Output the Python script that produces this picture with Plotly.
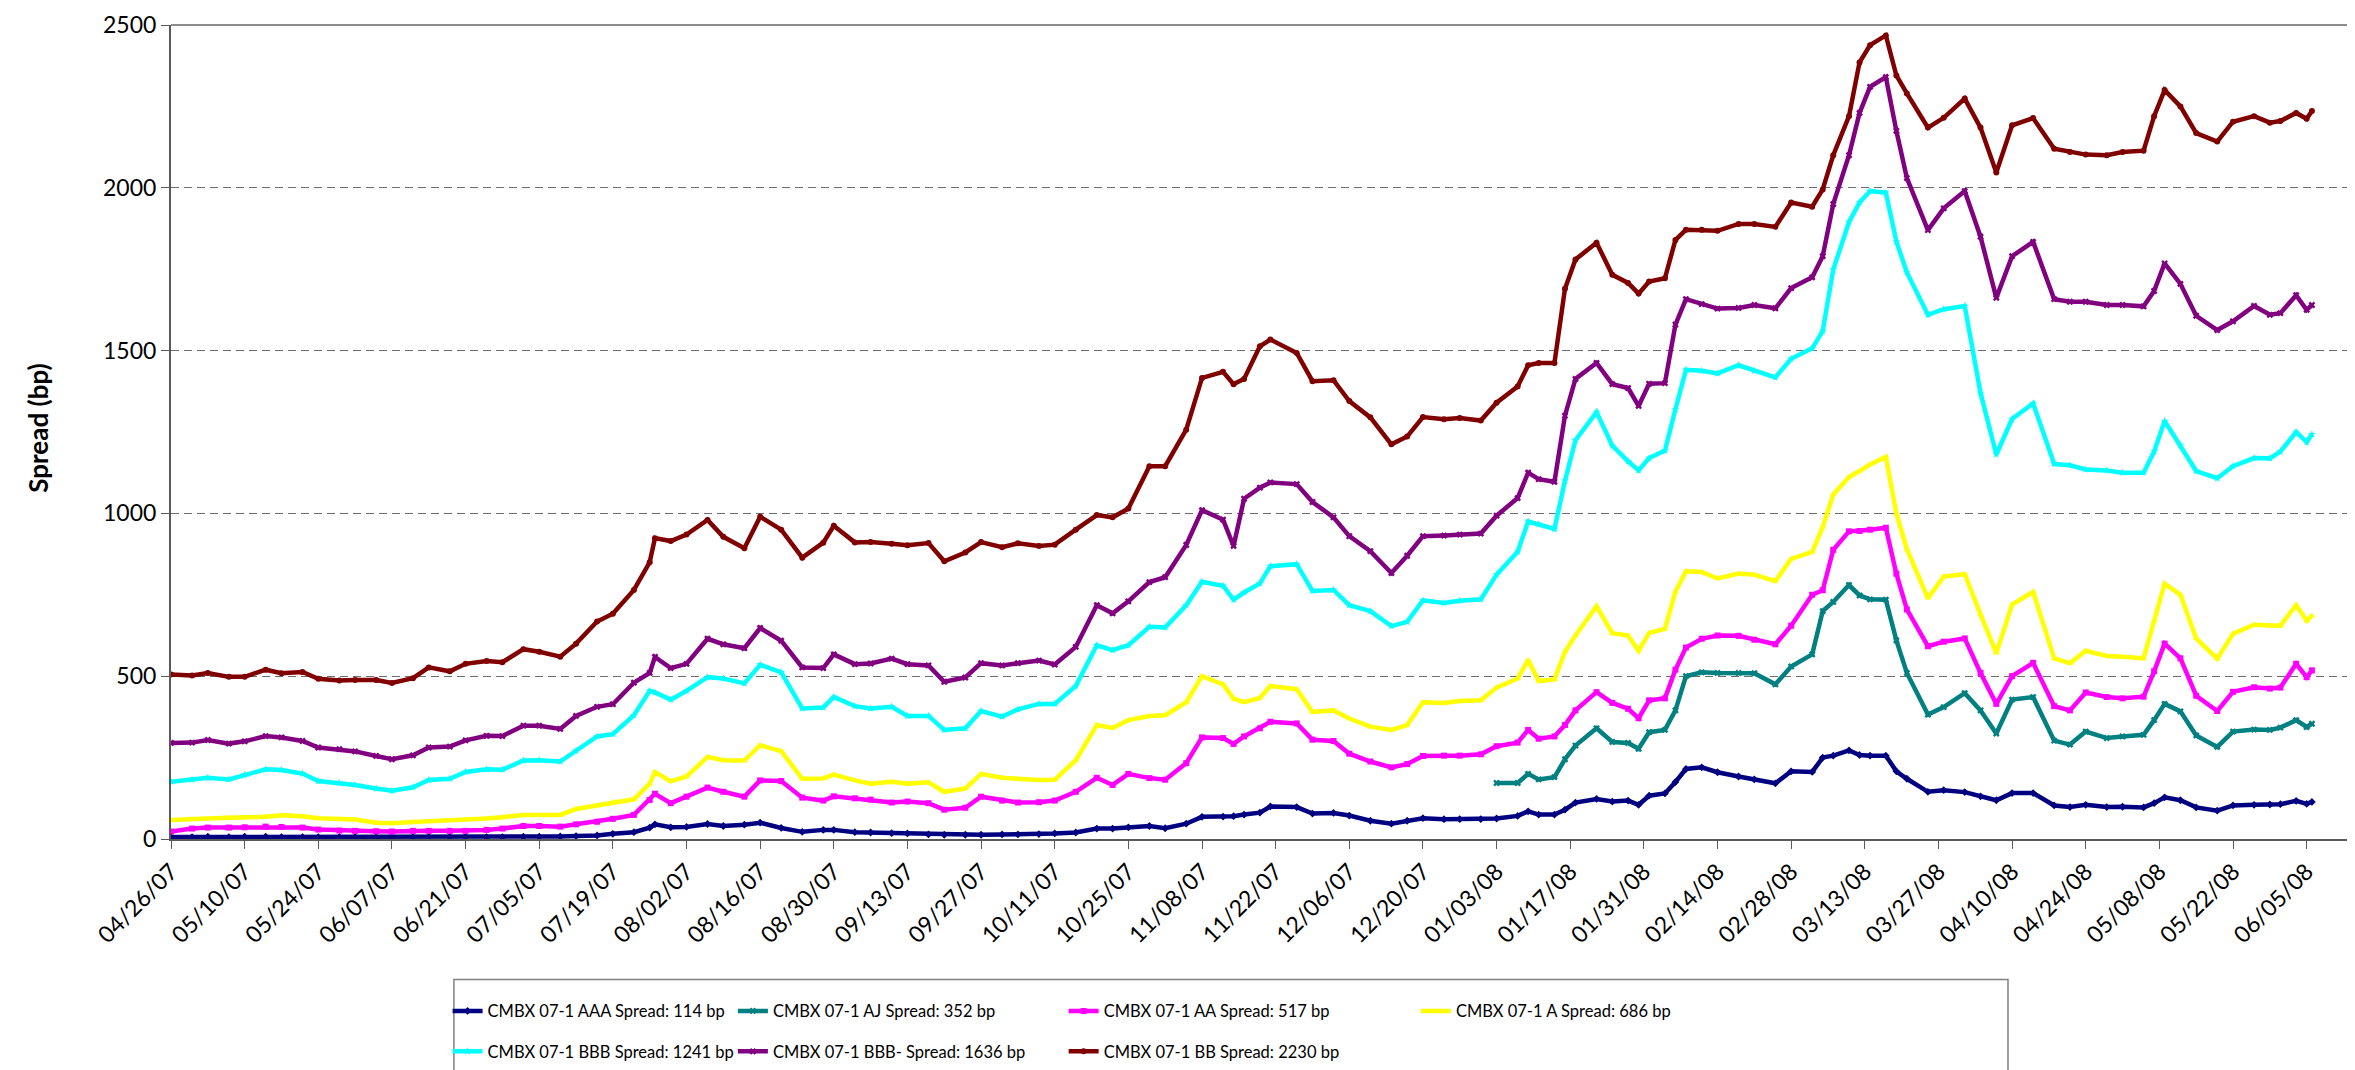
import pandas as pd
import plotly.graph_objects as go

# observation dates, stored as days since the first fixing (04/26/07)
start_date = "2007-04-26"
day_offsets = [0, 4, 7, 11, 14, 18, 21, 25, 28, 32,
               35, 39, 42, 46, 49, 53, 56, 60, 63, 67,
               70, 74, 77, 81, 84, 88, 91, 92, 95, 98,
               102, 105, 109, 112, 116, 120, 124, 126, 130, 133,
               137, 140, 144, 147, 151, 154, 158, 161, 165, 168,
               172, 176, 179, 182, 186, 189, 193, 196, 200, 202,
               204, 207, 209, 214, 217, 221, 224, 228, 232, 235,
               238, 242, 245, 249, 252, 256, 258, 260, 263, 265,
               267, 271, 274, 277, 279, 281, 284, 286, 288, 291,
               294, 298, 301, 305, 308, 312, 314, 316, 319, 321,
               323, 326, 328, 330, 334, 337, 341, 344, 347, 350,
               354, 358, 361, 364, 368, 371, 375, 377, 379, 382,
               385, 389, 392, 396, 399, 401, 404, 406, 407]

aaa = [6, 6, 7, 6, 7, 7, 6, 6, 6, 6,
       6, 5, 5, 5, 6, 6, 6, 6, 6, 7,
       7, 8, 9, 11, 16, 21, 35, 45, 36, 37,
       46, 40, 44, 50, 34, 22, 28, 28, 21, 20,
       18, 17, 14, 13, 13, 13, 14, 14, 15, 17,
       20, 32, 32, 36, 40, 33, 47, 68, 69, 70,
       75, 81, 100, 98, 78, 80, 72, 56, 47, 56,
       64, 61, 61, 61, 63, 71, 85, 75, 75, 90,
       112, 123, 115, 118, 105, 133, 140, 175, 215, 220,
       205, 192, 183, 171, 208, 206, 250, 256, 272, 258,
       256, 256, 208, 185, 145, 150, 144, 131, 119, 141,
       141, 103, 98, 105, 98, 99, 97, 110, 128, 119,
       97, 87, 103, 105, 106, 107, 117, 108, 114]

# AJ tranche only quoted from early January 2008
aj = [None] * 74 + [172, 172, 200, 183, 190, 245,
                    287, 340, 298, 295, 277, 328, 335, 395, 500, 512,
                    510, 510, 509, 475, 530, 567, 700, 728, 780, 748,
                    736, 735, 610, 510, 382, 405, 448, 395, 324, 428,
                    436, 302, 290, 330, 310, 315, 320, 365, 415, 392,
                    318, 283, 330, 336, 335, 342, 365, 344, 354]

aa = [23, 32, 35, 35, 36, 38, 37, 35, 29, 26,
      25, 24, 23, 25, 25, 25, 25, 28, 32, 40,
      40, 38, 45, 53, 62, 74, 120, 139, 110, 130,
      158, 145, 130, 180, 178, 127, 118, 131, 125, 121,
      112, 115, 110, 90, 96, 130, 118, 112, 113, 118,
      145, 188, 166, 200, 187, 182, 233, 312, 310, 292,
      315, 340, 360, 355, 305, 301, 262, 238, 220, 230,
      255, 256, 256, 260, 285, 296, 335, 308, 315, 350,
      395, 451, 418, 400, 371, 426, 432, 520, 588, 615,
      625, 624, 612, 598, 655, 750, 764, 888, 945, 946,
      950, 956, 815, 705, 592, 606, 616, 510, 415, 500,
      541, 408, 395, 450, 436, 432, 437, 515, 600, 555,
      440, 393, 452, 466, 462, 465, 538, 497, 518]

a = [58, 62, 63, 65, 66, 68, 73, 70, 64, 61,
     60, 50, 48, 52, 54, 57, 59, 63, 67, 74,
     74, 74, 92, 103, 114, 122, 170, 206, 177, 192,
     252, 242, 241, 288, 270, 185, 186, 198, 180, 170,
     176, 170, 174, 145, 155, 200, 188, 185, 181, 182,
     242, 350, 341, 365, 378, 380, 420, 500, 475, 431,
     420, 433, 470, 460, 390, 395, 370, 345, 335, 350,
     420, 418, 424, 426, 465, 493, 550, 485, 490, 575,
     625, 715, 632, 625, 578, 633, 645, 760, 822, 820,
     800, 815, 812, 792, 860, 882, 958, 1058, 1112, 1130,
     1150, 1174, 1000, 890, 740, 806, 813, 690, 571, 720,
     759, 555, 540, 578, 562, 560, 555, 670, 784, 750,
     616, 554, 630, 658, 655, 655, 718, 670, 686]

bbb = [176, 182, 188, 183, 197, 214, 212, 201, 178, 172,
       166, 155, 148, 159, 181, 185, 206, 214, 213, 241,
       242, 238, 271, 315, 322, 380, 455, 450, 428, 455,
       497, 493, 478, 535, 512, 401, 404, 436, 408, 401,
       406, 378, 378, 335, 340, 393, 376, 398, 415, 415,
       470, 595, 580, 595, 652, 650, 718, 790, 778, 735,
       757, 785, 838, 844, 762, 765, 718, 700, 654, 667,
       733, 725, 732, 736, 812, 882, 975, 967, 952, 1100,
       1225, 1311, 1208, 1160, 1132, 1170, 1193, 1320, 1441, 1438,
       1430, 1455, 1438, 1418, 1475, 1507, 1560, 1749, 1895, 1955,
       1990, 1985, 1835, 1740, 1610, 1627, 1637, 1370, 1181, 1290,
       1338, 1152, 1148, 1135, 1132, 1125, 1125, 1190, 1284, 1210,
       1130, 1108, 1145, 1170, 1169, 1190, 1250, 1219, 1243]

bbb_minus = [295, 296, 304, 293, 300, 316, 312, 301, 281, 276,
             269, 255, 245, 257, 281, 284, 303, 317, 316, 348,
             348, 338, 378, 406, 414, 480, 510, 559, 525, 538,
             615, 598, 586, 648, 609, 527, 525, 567, 537, 539,
             554, 537, 533, 483, 496, 540, 533, 540, 548, 536,
             590, 718, 693, 730, 789, 804, 903, 1010, 981, 900,
             1045, 1079, 1095, 1090, 1035, 988, 930, 884, 817, 870,
             930, 932, 935, 938, 993, 1047, 1125, 1105, 1097, 1300,
             1413, 1462, 1397, 1385, 1330, 1398, 1400, 1580, 1658, 1643,
             1629, 1631, 1640, 1630, 1692, 1725, 1790, 1950, 2100, 2230,
             2310, 2340, 2175, 2030, 1870, 1937, 1990, 1850, 1662, 1790,
             1834, 1658, 1650, 1650, 1640, 1640, 1636, 1683, 1768, 1705,
             1607, 1563, 1590, 1637, 1610, 1615, 1670, 1625, 1640]

bb = [505, 502, 510, 498, 498, 520, 509, 513, 492, 487,
      488, 488, 479, 494, 527, 515, 538, 547, 543, 583,
      575, 560, 600, 668, 692, 765, 850, 924, 915, 935,
      980, 928, 893, 990, 950, 864, 910, 962, 911, 912,
      907, 902, 909, 853, 880, 912, 896, 908, 900, 904,
      950, 995, 988, 1015, 1145, 1145, 1257, 1416, 1435, 1397,
      1413, 1513, 1534, 1493, 1406, 1409, 1345, 1295, 1212, 1236,
      1296, 1289, 1293, 1285, 1340, 1390, 1455, 1462, 1462, 1690,
      1780, 1831, 1733, 1708, 1675, 1712, 1722, 1840, 1871, 1871,
      1868, 1889, 1889, 1880, 1955, 1942, 1995, 2100, 2220, 2385,
      2438, 2468, 2345, 2290, 2185, 2215, 2274, 2185, 2047, 2192,
      2214, 2120, 2110, 2102, 2100, 2110, 2114, 2220, 2300, 2250,
      2168, 2142, 2203, 2220, 2200, 2205, 2230, 2212, 2236]

font_family = "Lato"

dates = pd.Timestamp(start_date) + pd.to_timedelta(day_offsets, unit="D")

# name, values, colour, marker, which legend column
series = [
    ("CMBX 07-1 AAA Spread: 114 bp", aaa, "#000080", "diamond", "legend"),
    ("CMBX 07-1 AJ Spread: 352 bp", aj, "#008080", "x", "legend2"),
    ("CMBX 07-1 AA Spread: 517 bp", aa, "#FF00FF", "square", "legend3"),
    ("CMBX 07-1 A Spread: 686 bp", a, "#FFFF00", "triangle-up", "legend4"),
    ("CMBX 07-1 BBB Spread: 1241 bp", bbb, "#00FFFF", "star", "legend"),
    ("CMBX 07-1 BBB- Spread: 1636 bp", bbb_minus, "#800080", "x", "legend2"),
    ("CMBX 07-1 BB Spread: 2230 bp", bb, "#800000", "circle", "legend3"),
]

fig = go.Figure()
for name, values, color, symbol, legend_id in series:
    fig.add_trace(go.Scatter(
        x=dates,
        y=values,
        name=name,
        mode="lines+markers",
        line=dict(color=color, width=4.5),
        marker=dict(color=color, size=6, symbol=symbol),
        legend=legend_id,
        legendgroup=name,
    ))

# Excel lays the legend out in four columns of uneven width,
# so each column gets its own plotly legend
legend_style = dict(
    orientation="v",
    xanchor="left",
    yanchor="top",
    y=-0.19,
    bgcolor="rgba(0,0,0,0)",
    borderwidth=0,
    font=dict(family=font_family, size=16.5, color="black"),
    traceorder="grouped",
    tracegroupgap=16,
    itemwidth=30,
)

fig.update_layout(
    width=2355,
    height=1070,
    margin=dict(l=163, r=9, t=17, b=225),
    paper_bgcolor="white",
    plot_bgcolor="white",
    showlegend=True,
    legend=dict(legend_style, x=0.1267),
    legend2=dict(legend_style, x=0.2574),
    legend3=dict(legend_style, x=0.4089),
    legend4=dict(legend_style, x=0.5703),
    font=dict(family=font_family, color="black"),
)

fig.update_xaxes(
    type="date",
    range=["2007-04-26", "2008-06-14"],
    tick0=start_date,
    dtick=14 * 86400000,
    tickformat="%m/%d/%y",
    tickangle=-45,
    tickfont=dict(size=23, color="black"),
    ticks="outside",
    ticklen=8,
    tickcolor="#595959",
    showgrid=False,
    showline=True,
    linecolor="#595959",
    linewidth=2,
    automargin=False,
)

fig.update_yaxes(
    range=[0, 2500],
    dtick=500,
    tickfont=dict(size=23, color="black"),
    ticks="outside",
    ticklen=8,
    tickcolor="#595959",
    showgrid=True,
    gridcolor="#6e6e6e",
    gridwidth=1,
    griddash="8px,5px",
    zeroline=False,
    showline=True,
    linecolor="#595959",
    linewidth=2,
    automargin=False,
)

# Y title placed by hand to sit where Excel put it
fig.add_annotation(
    text="<b>Spread (bp)</b>",
    xref="paper", yref="paper",
    x=-0.061, y=0.505,
    xanchor="center", yanchor="middle",
    textangle=-90,
    showarrow=False,
    font=dict(family=font_family, size=26, color="black"),
)

# light grey frame on top and right, plus the box round the legend
fig.add_shape(type="line", xref="paper", yref="paper", x0=0, x1=1, y0=1, y1=1,
              line=dict(color="#8c8c8c", width=2))
fig.add_shape(type="line", xref="paper", yref="paper", x0=1, x1=1, y0=0, y1=1,
              line=dict(color="#8c8c8c", width=2))
fig.add_shape(type="rect", xref="paper", yref="paper",
              x0=0.1296, x1=0.8415, y0=-0.1727, y1=-0.29,
              line=dict(color="#808080", width=1.5))

fig.write_html("out.html")
